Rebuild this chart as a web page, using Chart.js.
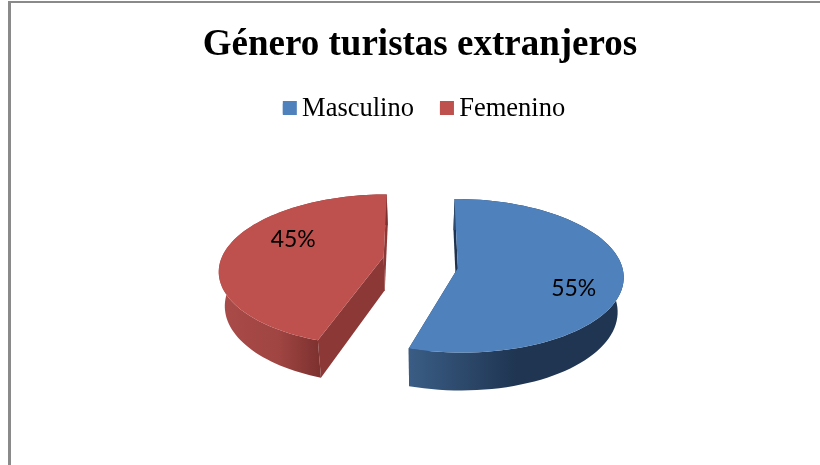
<!DOCTYPE html>
<html>
<head>
<meta charset="utf-8">
<style>
  html, body { margin: 0; padding: 0; background: #fff; overflow: hidden; }
  #frame { position: absolute; left: 8px; top: 1px; width: 900px; height: 600px; border-left: 3px solid #8a8a8a; border-top: 2px solid #8a8a8a; }
  #wrap { position: absolute; left: 0; top: 0; width: 820px; height: 465px; }
</style>
</head>
<body>
<div id="frame"></div>
<div id="wrap"><canvas id="myChart" width="820" height="465"></canvas></div>
<script src="https://cdn.jsdelivr.net/npm/chart.js@4"></script>
<script>
const titleText = 'Género turistas extranjeros';
const categories = ['Masculino', 'Femenino'];
const values = [55, 45];
const topColors = ['#4f81bd', '#be504d'];
const wallColors = ['#1e3350', '#8c3836'];
const sideStops = [
  [[0, '#3a5d85'], [0.5, '#1f3552'], [1, '#1f3552']],
  [[0, '#aa4b48'], [0.6, '#a04542'], [1, '#7e3230']]
];
// label spot inside each slice, in pie units
const labelSpots = [[0.68, 0.254], [-0.577, -0.324]];
// small corrections of the slice corners, the source perspective is not a clean one
const rimNudge = [[0, -0.018], [0.035, 0]];
const apexLift = [0, -0.08];
const legendShift = 4;

// 3d look: slices are laid out by Chart.js, then projected with some perspective
const view = { x0: 420.5, y0: 265.3, ax: 164, ay: 75.5, k: 0.1, explode: 0.23, depth: 34, shrink: 0.97 };

function project(u, v, bottom) {
  const w = 1 - view.k * v;
  let x = view.ax * u / w;
  let y = view.y0 + view.ay * v / w;
  if (bottom) {
    x *= view.shrink;
    y += view.depth / w;
  }
  return [view.x0 + x, y];
}

function pathOf(ctx, pts) {
  ctx.beginPath();
  pts.forEach((p, i) => i ? ctx.lineTo(p[0], p[1]) : ctx.moveTo(p[0], p[1]));
  ctx.closePath();
}

const pie3d = {
  id: 'pie3d',
  afterLayout(chart) {
    chart.legend.left += legendShift;
    chart.legend.right += legendShift;
  },
  afterDatasetsDraw(chart) {
    const ctx = chart.ctx;
    const arcs = chart.getDatasetMeta(0).data;
    // back slice first
    [1, 0].forEach(i => {
      const { startAngle, endAngle } = arcs[i].getProps(['startAngle', 'endAngle'], true);
      const mid = (startAngle + endAngle) / 2;
      const ou = view.explode * Math.cos(mid);
      const ov = view.explode * Math.sin(mid);
      const from = startAngle + rimNudge[i][0];
      const to = endAngle + rimNudge[i][1];
      const rim = [];
      for (let n = 0; n <= 80; n++) {
        const a = from + (to - from) * n / 80;
        rim.push([ou + Math.cos(a), ov + Math.sin(a)]);
      }
      const top = rim.map(p => project(p[0], p[1], false));
      const bot = rim.map(p => project(p[0], p[1], true));
      const apexT = project(ou, ov + apexLift[i], false);
      const apexB = project(ou, ov + apexLift[i], true);

      ctx.save();
      // straight walls
      ctx.fillStyle = wallColors[i];
      pathOf(ctx, [top[0], apexT, apexB, bot[0]]);
      ctx.fill();
      pathOf(ctx, [top[80], apexT, apexB, bot[80]]);
      ctx.fill();
      // curved side
      const xs = top.concat(bot).map(p => p[0]);
      let x1 = Math.min(...xs), x2 = Math.max(...xs);
      if (i === 0) x1 = top[80][0];
      if (i === 1) x2 = top[0][0];
      const grad = ctx.createLinearGradient(x1, 0, x2, 0);
      sideStops[i].forEach(s => grad.addColorStop(s[0], s[1]));
      ctx.fillStyle = grad;
      pathOf(ctx, top.concat(bot.slice().reverse()));
      ctx.fill();
      // top face
      ctx.fillStyle = topColors[i];
      pathOf(ctx, [apexT].concat(top));
      ctx.fill();
      // label
      const pos = project(ou + labelSpots[i][0], ov + labelSpots[i][1], false);
      ctx.fillStyle = '#000';
      ctx.font = '24px Lato';
      ctx.textAlign = 'center';
      ctx.textBaseline = 'middle';
      ctx.fillText(values[i] + '%', pos[0], pos[1], 45);
      ctx.restore();
    });
  },
  afterDraw(chart) {
    // square legend keys, wider than the spot the legend leaves for them
    const ctx = chart.ctx;
    chart.legend.legendHitBoxes.forEach((box, i) => {
      ctx.fillStyle = topColors[i];
      ctx.fillRect(box.left, 101, 14, 14);
    });
  }
};

new Chart(document.getElementById('myChart'), {
  type: 'pie',
  data: {
    labels: categories,
    datasets: [{ data: values, backgroundColor: topColors, borderWidth: 0 }]
  },
  options: {
    responsive: false,
    animation: false,
    events: [],
    layout: { padding: { left: 20 } },
    plugins: {
      tooltip: { enabled: false },
      title: {
        display: true,
        text: titleText,
        color: '#000',
        font: { family: 'Liberation Serif', size: 37, weight: 'bold' },
        padding: { top: 23, bottom: 2 }
      },
      legend: {
        position: 'top',
        labels: {
          color: '#000',
          boxWidth: 6,
          boxHeight: 10,
          padding: 26,
          font: { family: 'Liberation Serif', size: 26.5 }
        }
      }
    }
  },
  plugins: [{
    id: 'hideBase',
    beforeDatasetDraw: () => false
  }, pie3d]
});
</script>
</body>
</html>
